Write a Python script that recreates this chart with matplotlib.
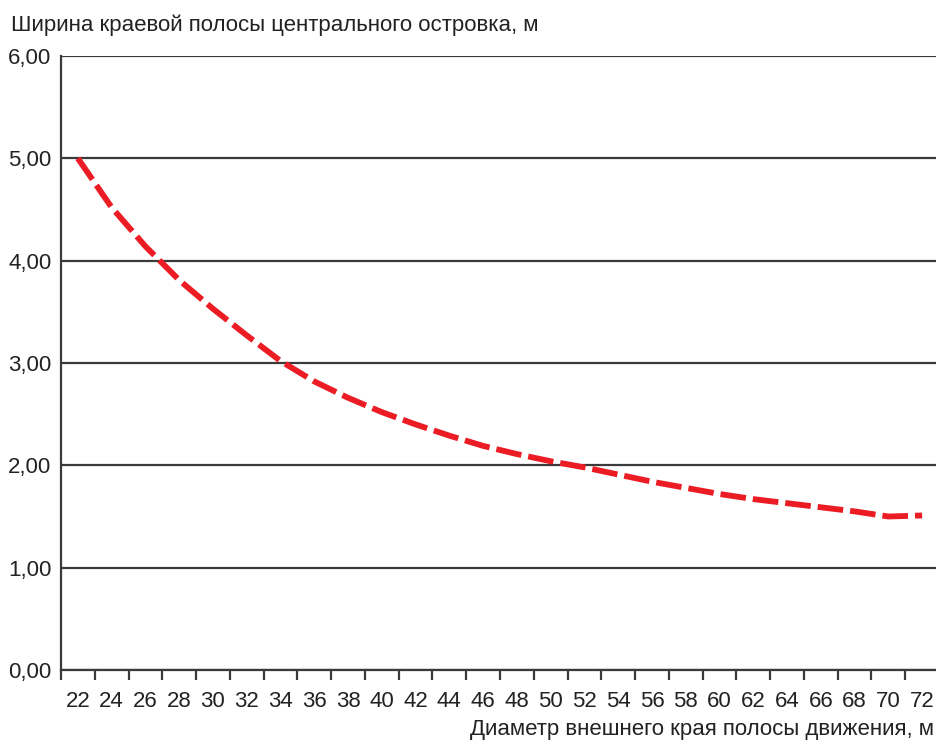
import matplotlib
matplotlib.use("Agg")
import matplotlib.pyplot as plt
from matplotlib.ticker import FixedLocator, FixedFormatter

plt.rcParams['font.family'] = ['Liberation Sans', 'DejaVu Sans']

# Outer diameter of the carriageway (m) and apron width of the central island (m)
diameters = [22, 24, 26, 28, 30, 32, 34, 36, 38, 40, 42, 44, 46,
             48, 50, 52, 54, 56, 58, 60, 62, 64, 66, 68, 70, 72]
apron_width = [5.00, 4.52, 4.14, 3.81, 3.53, 3.27, 3.02, 2.82, 2.66, 2.52,
               2.40, 2.29, 2.19, 2.11, 2.04, 1.98, 1.91, 1.84, 1.78, 1.72,
               1.67, 1.63, 1.59, 1.55, 1.50, 1.51]
y_ticks = [0, 1, 2, 3, 4, 5, 6]
y_tick_labels = ["0,00", "1,00", "2,00", "3,00", "4,00", "5,00", "6,00"]

W, H = 937, 740
fig = plt.figure(figsize=(W / 100, H / 100), dpi=100)
left, right, top, bottom = 61, 939, 56, 670
ax = fig.add_axes([left / W, 1 - bottom / H, (right - left) / W, (bottom - top) / H])

gray = "#3a3a3a"
text_color = "#222222"
n = len(diameters)
pos = list(range(n))

ax.plot(pos, apron_width, color="#ec1c24", lw=4.2,
        linestyle=(0, (4.4, 1.2)), solid_capstyle="butt",
        dash_capstyle="butt", solid_joinstyle="round", zorder=3)

ax.set_xlim(-0.5, n - 0.5)
ax.set_ylim(0, 6)

# category boundaries carry tick marks, labels sit in the middle of each slot
ax.xaxis.set_major_locator(FixedLocator([i - 0.5 for i in range(n + 1)]))
ax.xaxis.set_major_formatter(FixedFormatter([""] * (n + 1)))
ax.xaxis.set_minor_locator(FixedLocator(pos))
ax.xaxis.set_minor_formatter(FixedFormatter([str(d) for d in diameters]))
ax.tick_params(axis="x", which="major", length=7, width=1.6, color=gray,
               direction="out")
ax.tick_params(axis="x", which="minor", length=0, pad=15, labelsize=16,
               labelcolor=text_color)

ax.set_yticks(y_ticks)
ax.set_yticklabels(y_tick_labels)
ax.tick_params(axis="y", length=0, pad=7, labelsize=16, labelcolor=text_color)

ax.yaxis.grid(True, color=gray, lw=1.6)
ax.set_axisbelow(True)
for side in ("top", "right"):
    ax.spines[side].set_visible(False)
for side in ("left", "bottom"):
    ax.spines[side].set_color(gray)
    ax.spines[side].set_linewidth(1.6)

fig.text(11 / W, 1 - 31 / H, "Ширина краевой полосы центрального островка, м",
         ha="left", va="baseline", fontsize=16, color=text_color)
fig.text(934 / W, 1 - 735 / H, "Диаметр внешнего края полосы движения, м",
         ha="right", va="baseline", fontsize=16, color=text_color)

fig.savefig("out.png", dpi=100, facecolor="white")
